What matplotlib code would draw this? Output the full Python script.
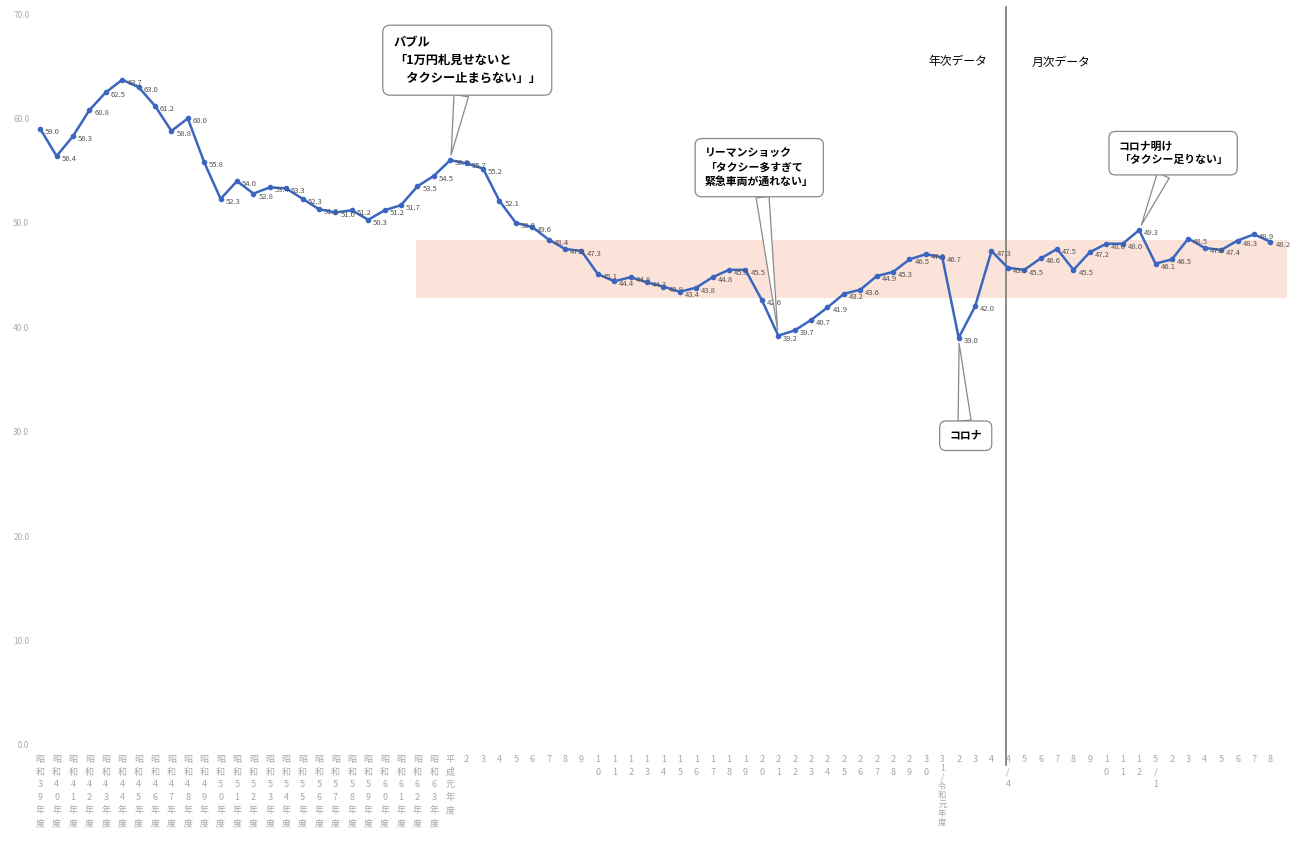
import matplotlib.pyplot as plt

plt.rcParams['font.family'] = ['Noto Sans CJK JP', 'DejaVu Sans']

# === DATA ===
# annual values: 昭和39年度 .. 令和4年度
annual_values = [59.0, 56.4, 58.3, 60.8, 62.5, 63.7, 63.0, 61.2, 58.8, 60.0,
                 55.8, 52.3, 54.0, 52.8, 53.4, 53.3, 52.3, 51.3, 51.0, 51.2,
                 50.3, 51.2, 51.7, 53.5, 54.5, 56.0, 55.7, 55.2, 52.1, 50.0,
                 49.6, 48.4, 47.5, 47.3, 45.1, 44.4, 44.8, 44.3, 43.9, 43.4,
                 43.8, 44.8, 45.5, 45.5, 42.6, 39.2, 39.7, 40.7, 41.9, 43.2,
                 43.6, 44.9, 45.3, 46.5, 47.0, 46.7, 39.0, 42.0, 47.3]
# monthly values: 4/4 .. 5/8
monthly_values = [45.7, 45.5, 46.6, 47.5, 45.5, 47.2, 48.0, 48.0, 49.3,
                  46.1, 46.5, 48.5, 47.6, 47.4, 48.3, 48.9, 48.2]

showa_years = list(range(39, 64))
heisei_years = list(range(2, 31))
reiwa_years = [2, 3, 4]
month_labels = ['4/4', '5', '6', '7', '8', '9', '10', '11', '12',
                '5/1', '2', '3', '4', '5', '6', '7', '8']

band_low, band_high, band_start = 42.8, 48.4, 22.9

callouts = [
    # (series index, text, box offset px, font size)
    (25, 'バブル\n「1万円札見せないと\n　タクシー止まらない」」', (17, 100), 8.8),
    (45, 'リーマンショック\n「タクシー多すぎて\n緊急車両が通れない」', (-19, 168), 7.8),
    (56, 'コロナ', (7, -98), 7.8),
    (67, 'コロナ明け\n「タクシー足りない」', (34, 77), 7.8),
]


def vert(s):
    return '\n'.join(s)


labels = [vert(f'昭和{y}年度') for y in showa_years]
labels.append(vert('平成元年度'))
labels += [vert(str(y)) for y in heisei_years]
labels.append(vert('31/令和元年度'))
reiwa_pos = len(labels) - 1
labels += [vert(str(y)) for y in reiwa_years]
labels += [vert(m) for m in month_labels]

values = annual_values + monthly_values
xs = list(range(len(values)))

# === PLOT ===
fig = plt.figure(figsize=(12.98, 8.42), dpi=100)
ax = fig.add_axes([32 / 1298, 97 / 842, 1258 / 1298, 731 / 842])

ax.fill_between([band_start, len(values)], band_low, band_high,
                color='#fbe3d9', lw=0, zorder=0)

ax.plot(xs, values, color='#3a66c0', lw=1.8, marker='o', ms=3, zorder=3)

for x, v in zip(xs, values):
    ax.annotate(f'{v:.1f}', (x, v), xytext=(5, -3), textcoords='offset pixels',
                fontsize=5.5, color='#555555', ha='left', va='center', zorder=4)

# divider between annual and monthly data
div = len(annual_values) - 0.1
ax.axvline(div, ymin=-0.028, ymax=1.01, color='#777777', lw=1.2, clip_on=False)
ax.annotate('年次データ', (div, 1), xycoords=('data', 'axes fraction'),
            xytext=(-48, -48), textcoords='offset pixels',
            fontsize=8.5, ha='center', va='center')
ax.annotate('月次データ', (div, 1), xycoords=('data', 'axes fraction'),
            xytext=(55, -48), textcoords='offset pixels',
            fontsize=8.5, ha='center', va='center')

for idx, text, off, fs in callouts:
    ax.annotate(text, (idx, values[idx]), xytext=off, textcoords='offset pixels',
                fontsize=fs, fontweight='bold', ha='center', va='center',
                multialignment='left', linespacing=1.45, zorder=6,
                bbox=dict(boxstyle='round,pad=0.9,rounding_size=0.6',
                          fc='white', ec='#8a8a8a', lw=0.9),
                arrowprops=dict(arrowstyle='wedge,tail_width=1.2,shrink_factor=0.5',
                                fc='white', ec='#8a8a8a', lw=0.9,
                                shrinkA=0, shrinkB=4))

ax.set_xlim(-0.5, 76.2)
ax.set_ylim(0, 70)
ax.set_yticks(range(0, 71, 10))
ax.set_yticklabels([f'{v:.1f}' for v in range(0, 71, 10)], fontsize=6,
                   color='#aaaaaa')
ax.set_xticks(xs)
ax.set_xticklabels(labels, fontsize=6.5, color='#a8a8a8', linespacing=1.55,
                   va='top')
tl = ax.get_xticklabels()[reiwa_pos]
tl.set_linespacing(1.0)
tl.set_fontsize(6)
ax.tick_params(length=0)
ax.tick_params(axis='x', pad=7)
ax.tick_params(axis='y', pad=2)
for s in ax.spines.values():
    s.set_visible(False)

fig.savefig('out.png', dpi=100)
